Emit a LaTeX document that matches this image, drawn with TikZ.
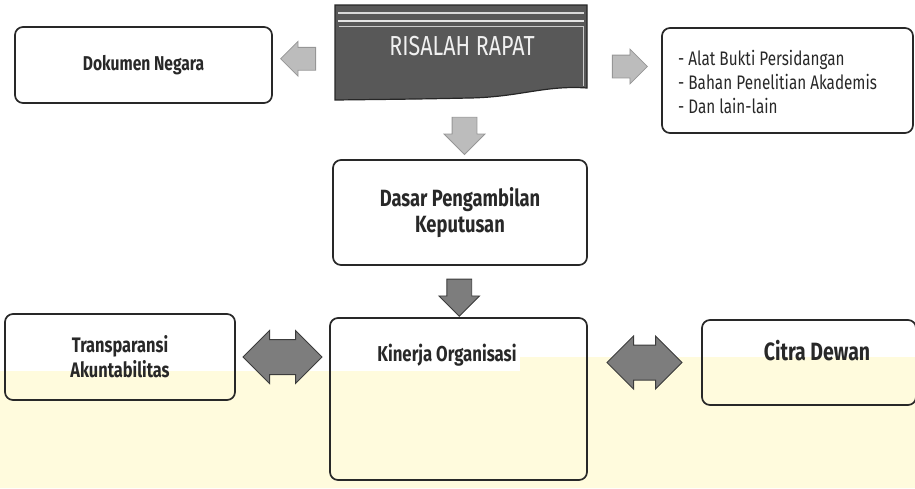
\documentclass[tikz,border=0pt]{standalone}
\usepackage{fontspec}
\newfontfamily\condfont[FakeStretch=0.78]{Fira Sans}
\usetikzlibrary{shapes.arrows,calc}

\definecolor{boxline}{RGB}{40,40,40}
\definecolor{lightarrow}{RGB}{188,188,188}
\definecolor{lightarrowline}{RGB}{150,150,150}
\definecolor{darkarrow}{RGB}{125,125,125}
\definecolor{darkarrowline}{RGB}{60,60,60}
\definecolor{bannerfill}{RGB}{88,88,88}
\definecolor{scanband}{RGB}{255,251,221}

\tikzset{
  box/.style={draw=boxline, line width=1.7pt, rounded corners=8pt, align=center,
    text=boxline, font=\condfont\bfseries\fontsize{20}{26}\selectfont},
  boxtext/.style={text=boxline, align=center, inner sep=0pt,
    font=\condfont\bfseries\fontsize{21.5}{26}\selectfont},
  listtext/.style={text=boxline, align=left, inner sep=0pt,
    font=\condfont\fontsize{19.6}{24}\selectfont},
  flatarrow/.style={single arrow, fill=lightarrow, draw=lightarrowline, line width=0.8pt,
    inner sep=11pt, single arrow head extend=6pt, minimum height=35pt},
  downarrow/.style={single arrow, draw=darkarrowline, line width=0.8pt,
    inner sep=12pt, single arrow head extend=8pt, minimum height=34pt, shape border rotate=270},
  twoway/.style={double arrow, fill=darkarrow, draw=darkarrowline, line width=1pt,
    inner sep=17pt, double arrow head extend=9pt}
}

\begin{document}
\begin{tikzpicture}[x=1pt,y=1pt,yscale=-1]
\useasboundingbox (0,0) rectangle (915,488);

%Shape: scanned band at the bottom
\fill[scanband] (0,371) -- (520,371) -- (520,357) -- (915,357) -- (915,488) -- (0,488) -- cycle;

%Shape: Banner
\draw[fill=bannerfill, draw=black!85, line width=1.2pt] (335,5) -- (587,5) -- (587,88)
  .. controls (545,85) and (520,97) .. (470,98) .. controls (420,99) .. (335,100) -- cycle;
\draw[white!70!gray, line width=1.5pt] (338,13) -- (584,13);
\draw[white!80!gray, line width=1.5pt] (338,21) -- (584,21);
\draw[white!60!gray, line width=0.6pt] (339,26) -- (583,26) -- (583,86);
\node[minimum width=252pt, minimum height=95pt, inner sep=0pt] (risalah) at (461,52.5) {};
\node[inner sep=0pt, text=white!88!gray, font=\condfont\fontsize{27.5}{30}\selectfont] (risalahtext) at (462,46) {RISALAH RAPAT};

%Shape: Boxes
\node[box, minimum width=257pt, minimum height=76pt] (dok) at (143.5,65) {Dokumen Negara};
\node[box, minimum width=251pt, minimum height=105pt] (lain) at (787.5,80.5) {};
\node[listtext, anchor=west] (lainlist) at (678,82) {- Alat Bukti Persidangan\\- Bahan Penelitian Akademis\\- Dan lain-lain};
\node[box, minimum width=254pt, minimum height=105pt, font=\condfont\bfseries\fontsize{23.5}{26}\selectfont] (dasar) at (460,212.5) {Dasar Pengambilan\\Keputusan};
\node[box, minimum width=230pt, minimum height=86pt, font=\condfont\bfseries\fontsize{21}{25}\selectfont] (transp) at (120,357) {Transparansi\\Akuntabilitas};
\node[box, minimum width=257pt, minimum height=162pt] (kinerja) at (458.5,399) {};
\node[boxtext] (kinerjatext) at (447,355) {Kinerja Organisasi};
\node[box, minimum width=214pt, minimum height=85pt] (citra) at (809,362.5) {};
\node[boxtext, font=\condfont\bfseries\fontsize{25}{28}\selectfont] (citratext) at (817,351) {Citra Dewan};

%Block arrows
\node[flatarrow, shape border rotate=180] (toDok) at ($(dok.east)!0.5!(risalah.west)$) {};
\node[flatarrow] (toLain) at ($(risalah.east)!0.5!(lain.west)$) {};
\node[downarrow, fill=lightarrow, draw=lightarrowline] (toDasar) at ($(risalah.south)!0.5!(dasar.north)+(4,0)$) {};
\node[downarrow, fill=darkarrow] (toKinerja) at ($(dasar.south)!0.5!(kinerja.north)$) {};
\node[twoway, minimum height=79pt] (transpKinerja) at ($(transp.east)!0.5!(kinerja.west |- transp.east)$) {};
\node[twoway, minimum height=75pt] (kinerjaCitra) at ($(kinerja.east |- citra.west)!0.5!(citra.west)$) {};

\end{tikzpicture}
\end{document}
